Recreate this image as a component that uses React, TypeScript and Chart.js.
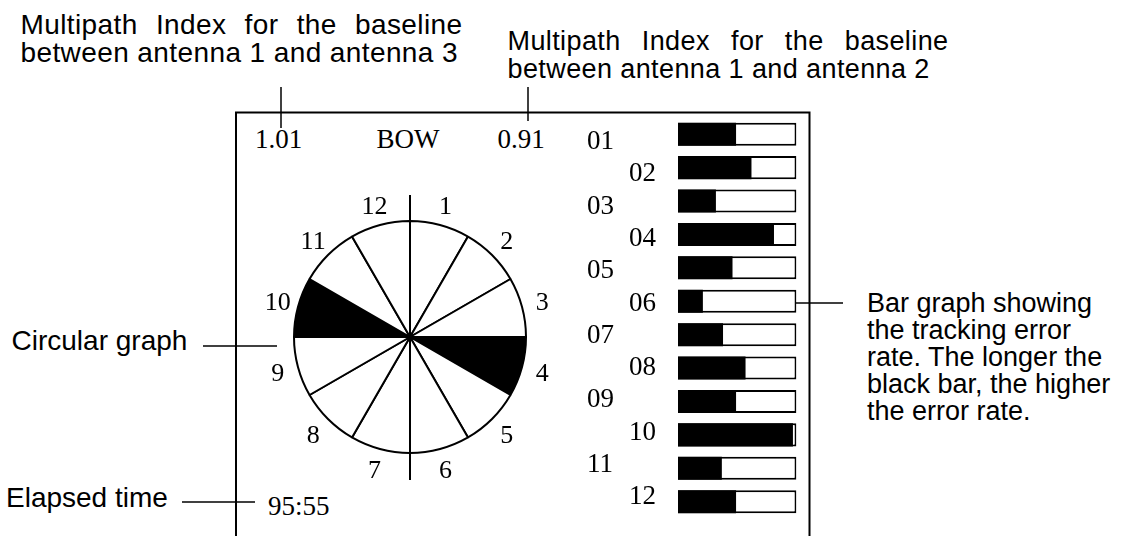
import React, { useEffect, useRef } from 'react';
import { Chart, registerables } from 'chart.js';

Chart.register(...registerables);

// ---- Data ----
const sectorLabels = ['1', '2', '3', '4', '5', '6', '7', '8', '9', '10', '11', '12'];
const sectorValues = [1, 1, 1, 1, 1, 1, 1, 1, 1, 1, 1, 1];
const sectorFlags = [0, 0, 0, 1, 0, 0, 0, 0, 0, 1, 0, 0];

const satelliteLabels = ['01', '02', '03', '04', '05', '06', '07', '08', '09', '10', '11', '12'];
const errorRates = [49, 62, 32, 81, 46, 21, 38, 57, 49, 97, 37, 49];
const fullScale = [100, 100, 100, 100, 100, 100, 100, 100, 100, 100, 100, 100];

const multipath13 = '1.01';
const multipath12 = '0.91';
const headingLabel = 'BOW';
const elapsedTime = '95:55';

const SERIF = '"Liberation Serif", "Times New Roman", serif';
const SANS = '"Liberation Sans", Arial, sans-serif';

const wheelPlugin = {
  id: 'wheelDecor',
  afterDraw(chart: any) {
    const meta = chart.getDatasetMeta(0);
    const ctx = chart.ctx;
    const first = meta.data[0];
    if (!first) return;
    const cx = first.x;
    const cy = first.y;
    const r = first.outerRadius;
    ctx.save();
    ctx.strokeStyle = '#000';
    ctx.lineWidth = 2;
    ctx.beginPath();
    ctx.moveTo(cx, cy - r - 26);
    ctx.lineTo(cx, cy + r + 27);
    ctx.stroke();
    const size = 26;
    ctx.font = `${size}px ${SERIF}`;
    ctx.fillStyle = '#000';
    ctx.textAlign = 'center';
    ctx.textBaseline = 'alphabetic';
    meta.data.forEach((arc: any, i: number) => {
      const mid = (arc.startAngle + arc.endAngle) / 2;
      const d = arc.outerRadius + 21;
      const x = cx + Math.cos(mid) * d;
      const y = cy + Math.sin(mid) * d;
      ctx.fillText(String(chart.data.labels[i]), x, y + size * 0.34);
    });
    ctx.restore();
  },
};

// label rows are slightly tighter than the bar rows in the original display
const labelRowStart = 0.174;
const labelRowStep = 0.966;

const barLabelPlugin = {
  id: 'barLabels',
  afterDraw(chart: any) {
    const ctx = chart.ctx;
    const yScale = chart.scales.y;
    const area = chart.chartArea;
    const size = 27;
    ctx.save();
    ctx.font = `${size}px ${SERIF}`;
    ctx.fillStyle = '#000';
    ctx.textAlign = 'left';
    ctx.textBaseline = 'alphabetic';
    (chart.data.labels as string[]).forEach((t, i) => {
      const y = yScale.getPixelForValue(labelRowStart + i * labelRowStep);
      const x = area.left - (i % 2 === 0 ? 91 : 49);
      ctx.fillText(t, x, y + size * 0.34);
    });
    ctx.restore();
  },
};

function Wheel() {
  const ref = useRef<HTMLCanvasElement>(null);
  useEffect(() => {
    if (!ref.current) return;
    const chart = new Chart(ref.current, {
      type: 'polarArea',
      data: {
        labels: sectorLabels,
        datasets: [
          {
            data: sectorValues,
            backgroundColor: sectorFlags.map((f) => (f ? '#000' : '#fff')),
            borderColor: '#000',
            borderWidth: 2,
          },
        ],
      },
      options: {
        responsive: false,
        animation: false,
        layout: { padding: 44 },
        plugins: { legend: { display: false }, tooltip: { enabled: false } },
        scales: { r: { display: false, min: 0, max: 1 } },
      },
      plugins: [wheelPlugin],
    } as any);
    return () => chart.destroy();
  }, []);
  return (
    <canvas
      ref={ref}
      width={320}
      height={320}
      style={{ position: 'absolute', left: 250, top: 177, width: 320, height: 320 }}
    />
  );
}

function Bars() {
  const ref = useRef<HTMLCanvasElement>(null);
  useEffect(() => {
    if (!ref.current) return;
    const chart = new Chart(ref.current, {
      type: 'bar',
      data: {
        labels: satelliteLabels,
        datasets: [
          {
            label: 'Tracking error rate',
            data: errorRates,
            backgroundColor: '#000',
            borderWidth: 0,
            grouped: false,
            barPercentage: 0.69,
            categoryPercentage: 1,
          },
          {
            label: 'Full scale',
            data: fullScale,
            backgroundColor: '#fff',
            borderColor: '#000',
            borderWidth: 2,
            borderSkipped: false,
            grouped: false,
            barPercentage: 0.69,
            categoryPercentage: 1,
          },
        ],
      },
      options: {
        indexAxis: 'y',
        responsive: false,
        animation: false,
        layout: { padding: { left: 118, right: 23.5, top: 17.5, bottom: 17.6 } },
        plugins: { legend: { display: false }, tooltip: { enabled: false } },
        scales: {
          x: { display: false, min: 0, max: 100 },
          y: { display: false },
        },
      },
      plugins: [barLabelPlugin],
    } as any);
    return () => chart.destroy();
  }, []);
  return (
    <canvas
      ref={ref}
      width={260}
      height={436}
      style={{ position: 'absolute', left: 560, top: 100, width: 260, height: 436 }}
    />
  );
}

const sansBase: React.CSSProperties = {
  position: 'absolute',
  fontFamily: SANS,
  fontSize: 27,
  lineHeight: '28px',
  color: '#000',
};
const serifBase: React.CSSProperties = {
  position: 'absolute',
  fontFamily: SERIF,
  fontSize: 27,
  lineHeight: '28px',
  color: '#000',
  whiteSpace: 'nowrap',
};

export default function App() {
  return (
    <div
      style={{
        position: 'absolute',
        left: 0,
        top: 0,
        width: 1131,
        height: 536,
        overflow: 'hidden',
        background: '#fff',
      }}
    >
      <svg
        width={1131}
        height={536}
        style={{ position: 'absolute', left: 0, top: 0 }}
      >
        <path d="M236 540 V112.5 H809.5 V540" fill="none" stroke="#000" strokeWidth={2} />
        <line x1={281} y1={87} x2={281} y2={128} stroke="#000" strokeWidth={1.5} />
        <line x1={528} y1={87} x2={528} y2={121} stroke="#000" strokeWidth={1.5} />
        <line x1={203} y1={346} x2={277} y2={346} stroke="#000" strokeWidth={1.5} />
        <line x1={182} y1={502} x2={255} y2={502} stroke="#000" strokeWidth={1.5} />
        <line x1={795} y1={303} x2={843} y2={303} stroke="#000" strokeWidth={1.5} />
      </svg>

      <div style={{ ...sansBase, fontSize: 28, left: 20.5, top: 11, width: 442, letterSpacing: 0.4 }}>
        <div style={{ textAlign: 'justify', textAlignLast: 'justify' } as any}>
          Multipath Index for the baseline
        </div>
        <div style={{ whiteSpace: 'nowrap' }}>between antenna 1 and antenna 3</div>
      </div>
      <div style={{ ...sansBase, left: 507.5, top: 26.6, width: 441, letterSpacing: 0.4 }}>
        <div style={{ textAlign: 'justify', textAlignLast: 'justify' } as any}>
          Multipath Index for the baseline
        </div>
        <div style={{ whiteSpace: 'nowrap' }}>between antenna 1 and antenna 2</div>
      </div>

      <div style={{ ...sansBase, fontSize: 28, left: 11.5, top: 327, whiteSpace: 'nowrap' }}>Circular graph</div>
      <div style={{ ...sansBase, fontSize: 28, left: 6, top: 483.6, whiteSpace: 'nowrap' }}>Elapsed time</div>
      <div style={{ ...sansBase, left: 867, top: 289.8, lineHeight: '27px', whiteSpace: 'nowrap' }}>
        <div>Bar graph showing</div>
        <div>the tracking error</div>
        <div>rate. The longer the</div>
        <div>black bar, the higher</div>
        <div>the error rate.</div>
      </div>

      <div style={{ ...serifBase, left: 255, top: 124.9 }}>{multipath13}</div>
      <div style={{ ...serifBase, left: 376.5, top: 124.9 }}>{headingLabel}</div>
      <div style={{ ...serifBase, left: 497.4, top: 124.9 }}>{multipath12}</div>
      <div style={{ ...serifBase, left: 268, top: 491.9 }}>{elapsedTime}</div>

      <Wheel />
      <Bars />
    </div>
  );
}
